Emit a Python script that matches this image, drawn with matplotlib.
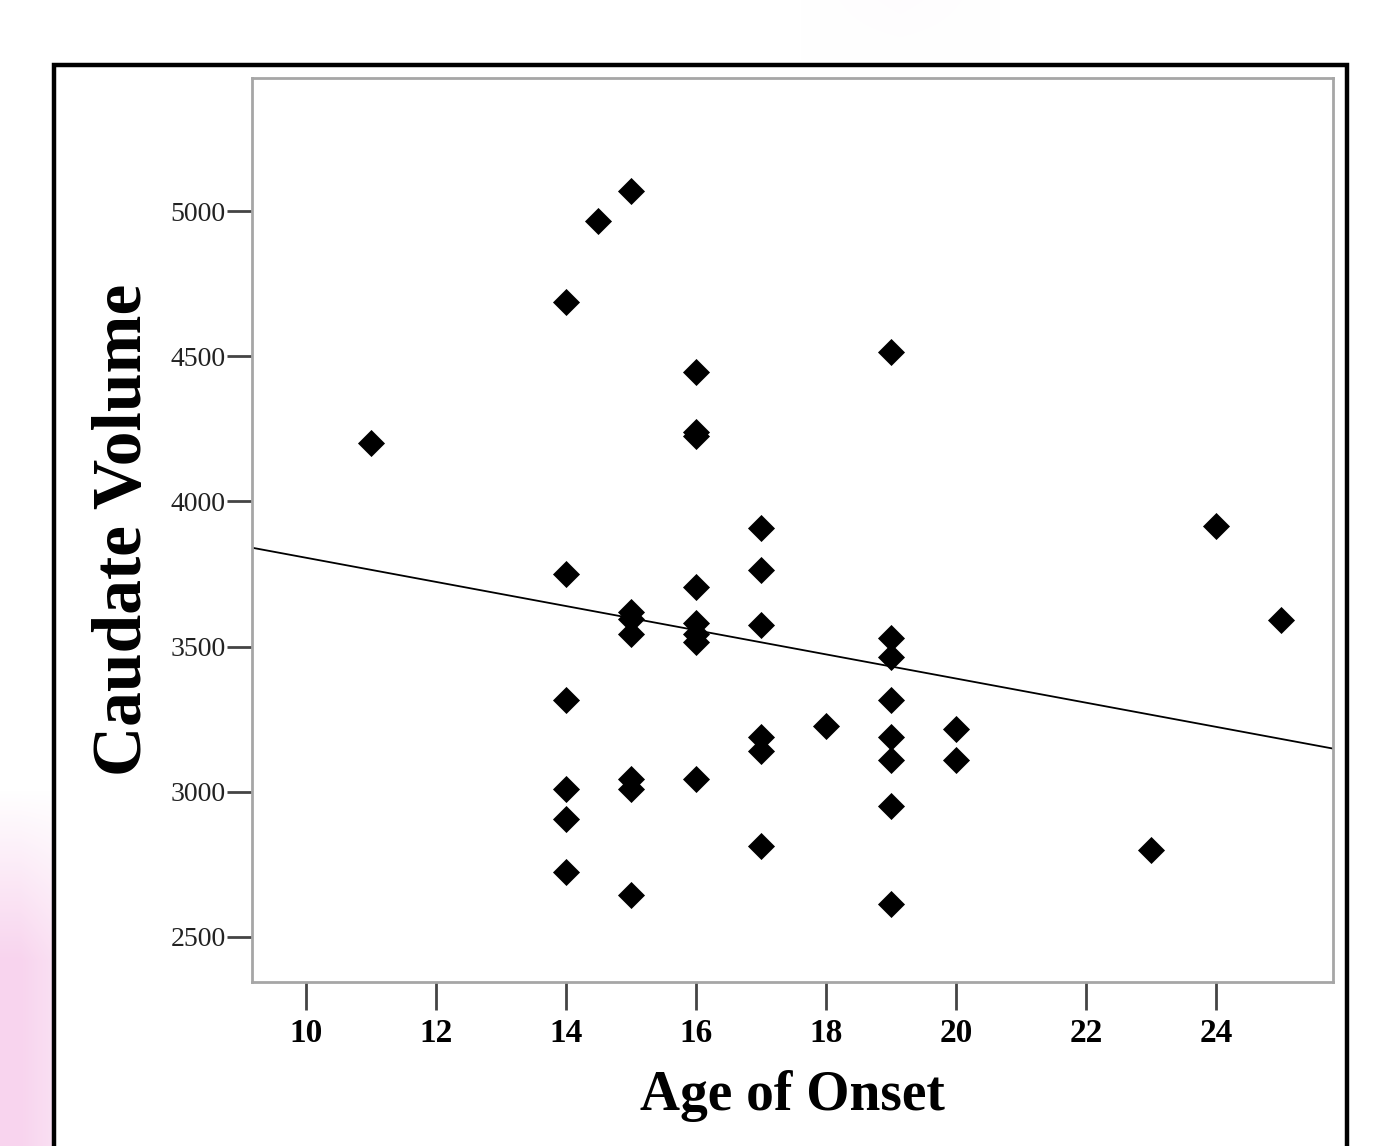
import numpy as np
import matplotlib.pyplot as plt
from matplotlib.patches import Rectangle

# data
age = [11, 14.5, 15,
       14, 14, 14, 14, 14, 14,
       15, 15, 15, 15, 15, 15,
       16, 16, 16, 16, 16, 16, 16, 16,
       17, 17, 17, 17, 17, 17,
       18,
       19, 19, 19, 19, 19, 19, 19, 19,
       20, 20,
       23, 24, 25]
volume = [4200, 4965, 5070,
          4685, 3750, 3315, 3010, 2905, 2725,
          3620, 3595, 3545, 3045, 3010, 2645,
          4445, 4240, 4225, 3705, 3580, 3545, 3515, 3045,
          3910, 3765, 3575, 3190, 3140, 2815,
          3225,
          4515, 3530, 3465, 3315, 3190, 3110, 2950, 2615,
          3215, 3110,
          2800, 3915, 3590]
xticks = [10, 12, 14, 16, 18, 20, 22, 24]
yticks = [2500, 3000, 3500, 4000, 4500, 5000]

W, H = 1381, 1146
fig = plt.figure(figsize=(W / 100, H / 100), dpi=100)

# pink slide background
bg = fig.add_axes([0, 0, 1, 1])
yy, xx = np.mgrid[0:H, 0:W]
w = np.clip((yy - 790) / 170.0, 0, 1) * np.clip((140 - xx) / 120.0, 0, 1)
w = np.maximum(w, 0.06 * np.clip((60 - yy) / 60.0, 0, 1) * np.clip(1 - np.abs(xx - 900) / 100.0, 0, 1))
pink = np.array([248, 212, 238]) / 255.0
img = 1 - w[..., None] * (1 - pink)
bg.imshow(img, aspect='auto', extent=[0, W, H, 0])
bg.set_xlim(0, W)
bg.set_ylim(H, 0)
bg.axis('off')

# white framed box
bg.add_patch(Rectangle((54, 65), 1293, 1200, facecolor='white',
                       edgecolor='black', linewidth=3.2))

ax = fig.add_axes([252 / W, 1 - 982 / H, (1333 - 252) / W, (982 - 78) / H])
ax.scatter(age, volume, marker='D', s=190, color='black', linewidths=0, zorder=3)

ax.set_xlim(9.17, 25.8)
ax.set_ylim(2345, 5458)

# linear fit line
slope, icpt = np.polyfit(age, volume, 1)
xl = np.array(ax.get_xlim())
ax.plot(xl, icpt + slope * xl, color='black', linewidth=1.3, zorder=2)

for s in ax.spines.values():
    s.set_color('#a6a6a6')
    s.set_linewidth(2)

ax.set_xticks(xticks)
ax.set_yticks(yticks)
ax.tick_params(axis='x', length=20, width=2, color='#444444', pad=6)
ax.tick_params(axis='y', length=18, width=2, color='#444444', pad=1)
for lab in ax.get_xticklabels():
    lab.set_fontfamily('Liberation Serif')
    lab.set_fontweight('bold')
    lab.set_fontsize(24)
for lab in ax.get_yticklabels():
    lab.set_fontfamily('Liberation Serif')
    lab.set_fontsize(20)
    lab.set_color('#222222')

ax.set_xlabel('Age of Onset', fontfamily='Liberation Serif', fontweight='bold',
              fontsize=40, labelpad=15)
ax.set_ylabel('Caudate Volume', fontfamily='Liberation Serif', fontweight='bold',
              fontsize=50, labelpad=10)

fig.savefig('out.png', dpi=100)
